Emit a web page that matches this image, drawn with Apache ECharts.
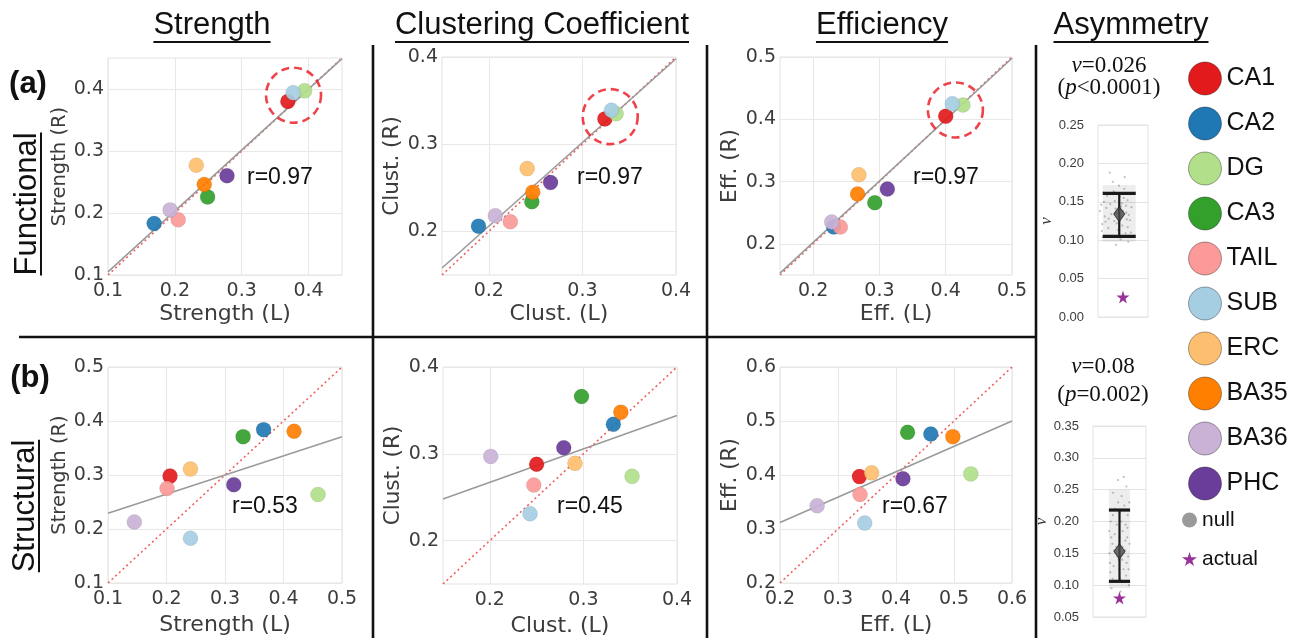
<!DOCTYPE html>
<html><head><meta charset="utf-8">
<script src="https://cdn.jsdelivr.net/npm/echarts@6/dist/echarts.min.js"></script>
<style>html,body{margin:0;padding:0;background:#fff}#c{width:1304px;height:638px}</style>
</head><body><div id="c"></div><script>
// ---------------- DATA ----------------
const regions = ['CA1','CA2','DG','CA3','TAIL','SUB','ERC','BA35','BA36','PHC'];
const regionColors = ['#e31a1c','#1f78b4','#b2df8a','#33a02c','#fb9a99','#a6cee3','#fdbf6f','#ff7f00','#cab2d6','#6a3d9a'];

const funcStrengthL = [0.369,0.169,0.394,0.249,0.205,0.377,0.232,0.244,0.193,0.278];
const funcStrengthR = [0.380,0.183,0.397,0.226,0.189,0.394,0.277,0.246,0.205,0.260];
const funcClustL    = [0.324,0.189,0.336,0.246,0.223,0.331,0.241,0.247,0.207,0.266];
const funcClustR    = [0.329,0.206,0.335,0.234,0.211,0.339,0.272,0.245,0.218,0.256];
const funcEffL      = [0.400,0.231,0.426,0.293,0.241,0.410,0.269,0.267,0.228,0.312];
const funcEffR      = [0.405,0.227,0.423,0.266,0.227,0.425,0.311,0.280,0.235,0.288];
const strucStrengthL = [0.206,0.366,0.459,0.331,0.201,0.241,0.241,0.418,0.145,0.315];
const strucStrengthR = [0.298,0.384,0.264,0.371,0.275,0.183,0.311,0.381,0.213,0.282];
const strucClustL    = [0.250,0.332,0.352,0.298,0.247,0.243,0.291,0.340,0.201,0.279];
const strucClustR    = [0.288,0.334,0.274,0.366,0.264,0.231,0.289,0.348,0.297,0.307];
const strucEffL      = [0.337,0.460,0.529,0.420,0.338,0.346,0.358,0.498,0.264,0.412];
const strucEffR      = [0.397,0.476,0.402,0.479,0.364,0.311,0.404,0.471,0.343,0.393];

// regression (grey) line end points
const fitFuncStrength  = [[0.10,0.105],[0.45,0.449]];
const fitFuncClust     = [[0.15,0.158],[0.40,0.398]];
const fitFuncEff       = [[0.15,0.153],[0.50,0.498]];
const fitStrucStrength = [[0.10,0.229],[0.50,0.371]];
const fitStrucClust    = [[0.15,0.248],[0.40,0.344]];
const fitStrucEff      = [[0.20,0.312],[0.60,0.500]];

const rValues = ['0.97','0.97','0.97','0.53','0.45','0.67'];
const highlightCenters = [[0.3775,0.390],[0.3297,0.3316],[0.4146,0.415]];

// axis ranges and tick labels
const rangeFuncStrength = [0.10,0.45], ticksFuncStrength = [0.1,0.2,0.3,0.4];
const rangeFuncClust = [0.15,0.40], ticksFuncClust = [0.2,0.3,0.4];
const rangeFuncEff = [0.15,0.50], ticksFuncEff = [0.2,0.3,0.4,0.5];
const rangeStrucStrength = [0.10,0.50], ticksStrucStrength = [0.1,0.2,0.3,0.4,0.5];
const rangeStrucClust = [0.15,0.40], ticksStrucClust = [0.2,0.3,0.4];
const rangeStrucEff = [0.20,0.60], ticksStrucEff = [0.2,0.3,0.4,0.5,0.6];

// asymmetry
const asymNu = ['0.026','0.08'];
const asymP = ['<0.0001','=0.002'];
const asymActual = [0.026, 0.08];
const asymMean = [0.134, 0.153];
const asymLo = [0.105, 0.106];
const asymHi = [0.161, 0.218];
const asymRange1 = [0, 0.25], asymTicks1 = [0, 0.05, 0.10, 0.15, 0.20, 0.25];
const asymRange2 = [0.05, 0.35], asymTicks2 = [0.05, 0.10, 0.15, 0.20, 0.25, 0.30, 0.35];
const nullA = [[-0.70,0.112],[-0.42,0.128],[-0.15,0.141],[0.12,0.119],[0.38,0.133],[-0.61,0.150],[-0.29,0.106],[0.02,0.157],[0.27,0.145],[0.46,0.110],
 [-0.55,0.124],[-0.22,0.164],[0.08,0.131],[0.33,0.152],[-0.77,0.138],[-0.36,0.147],[-0.05,0.113],[0.20,0.167],[0.43,0.126],[-0.66,0.104],
 [-0.48,0.158],[-0.10,0.122],[0.15,0.138],[0.36,0.098],[-0.72,0.146],[-0.32,0.134],[-0.01,0.171],[0.25,0.109],[0.49,0.143],[-0.58,0.131],
 [-0.18,0.151],[0.05,0.101],[0.30,0.127],[-0.44,0.116],[-0.26,0.176],[0.10,0.148],[0.41,0.160],[-0.68,0.121],[-0.08,0.135],[0.18,0.155],
 [-0.52,0.142],[-0.13,0.094],[0.22,0.182],[-0.38,0.188],[0.00,0.129],[0.34,0.117],[-0.63,0.162],[-0.20,0.125],[0.07,0.144],[0.28,0.136]];
const nullB = [[-0.35,0.12],[-0.12,0.16],[0.10,0.14],[0.30,0.19],[-0.25,0.21],[0.02,0.11],[0.22,0.17],[-0.38,0.15],[-0.05,0.23],[0.15,0.125],
 [0.36,0.10],[-0.18,0.18],[0.06,0.20],[0.27,0.135],[-0.30,0.095],[-0.08,0.145],[0.18,0.225],[0.38,0.165],[-0.22,0.13],[0.00,0.175],
 [0.25,0.115],[-0.33,0.20],[-0.14,0.105],[0.12,0.185],[0.33,0.145],[-0.27,0.165],[-0.02,0.125],[0.20,0.155],[-0.39,0.185],[0.08,0.24],
 [0.31,0.21],[-0.16,0.22],[0.04,0.09],[0.26,0.255],[-0.24,0.245],[-0.06,0.265],[0.14,0.105],[0.37,0.23],[-0.36,0.135],[-0.10,0.195],
 [0.16,0.27],[0.29,0.175],[-0.20,0.155],[0.01,0.215],[0.23,0.195],[-0.31,0.175],[0.11,0.16],[-0.04,0.14],[0.34,0.125],[-0.26,0.11]];
const nullBand = [[0.098,0.172],[0.095,0.250]];
const asymBarX = [-0.15, 0];
const asymHalfWidth = [0.66, 0.40];

// ---------------- LAYOUT ----------------
const SANS = 'DejaVu Sans', ARIAL = 'Liberation Sans', SERIF = 'Liberation Serif';
const starPath = 'path://M50,0 L61,35 L98,35 L68,57 L79,91 L50,70 L21,91 L32,57 L2,35 L39,35 Z';
const panels = [
 {L:funcStrengthL,R:funcStrengthR,fit:fitFuncStrength,range:rangeFuncStrength,ticks:ticksFuncStrength,xn:'Strength (L)',yn:'Strength (R)',ynSize:19.5,
  grid:{left:108,top:58,width:234,height:217},gapX:28,rPos:[247,178]},
 {L:funcClustL,R:funcClustR,fit:fitFuncClust,range:rangeFuncClust,ticks:ticksFuncClust,xn:'Clust. (L)',yn:'Clust. (R)',ynSize:21.5,
  grid:{left:442,top:57,width:234,height:218},gapX:28,rPos:[577,178]},
 {L:funcEffL,R:funcEffR,fit:fitFuncEff,range:rangeFuncEff,ticks:ticksFuncEff,xn:'Eff. (L)',yn:'Eff. (R)',ynSize:21.5,
  grid:{left:780,top:57,width:232,height:218},gapX:28,rPos:[913,178]},
 {L:strucStrengthL,R:strucStrengthR,fit:fitStrucStrength,range:rangeStrucStrength,ticks:ticksStrucStrength,xn:'Strength (L)',yn:'Strength (R)',ynSize:19.5,
  grid:{left:108,top:367,width:234,height:216},gapX:31,rPos:[232,507]},
 {L:strucClustL,R:strucClustR,fit:fitStrucClust,range:rangeStrucClust,ticks:ticksStrucClust,xn:'Clust. (L)',yn:'Clust. (R)',ynSize:21.5,
  grid:{left:443,top:367,width:234,height:217},gapX:31,rPos:[557,507]},
 {L:strucEffL,R:strucEffR,fit:fitStrucEff,range:rangeStrucEff,ticks:ticksStrucEff,xn:'Eff. (L)',yn:'Eff. (R)',ynSize:21.5,
  grid:{left:780,top:367,width:232,height:216},gapX:31,rPos:[882,507]}
];
const asymGrids = [{left:1098,top:125,width:50,height:192},{left:1093,top:426,width:53,height:191}];

const grids = [], xAxes = [], yAxes = [], series = [], graphics = [];
const tickColor = '#3c3c3c';
panels.forEach((p, pi) => {
  grids.push(Object.assign({show:true, borderColor:'#e2e2e2', borderWidth:1, backgroundColor:'#fff'}, p.grid));
  const common = {
    type:'value', gridIndex:pi, min:p.range[0], max:p.range[1],
    axisLine:{show:false}, axisTick:{show:false, customValues:p.ticks},
    splitLine:{show:true, lineStyle:{color:'#e8e8e8', width:1}},
    nameLocation:'middle'
  };
  xAxes.push(Object.assign({}, common, {
    axisLabel:{customValues:p.ticks, formatter:v=>v.toFixed(1), margin:7, color:tickColor, fontSize:19, fontFamily:SANS},
    name:p.xn, nameGap:p.gapX, nameTextStyle:{fontSize:22, color:tickColor, fontFamily:SANS}
  }));
  yAxes.push(Object.assign({}, common, {
    axisLabel:{customValues:p.ticks, formatter:v=>v.toFixed(1), margin:4, color:tickColor, fontSize:19, fontFamily:SANS},
    name:p.yn, nameGap:36, nameTextStyle:{fontSize:p.ynSize, color:tickColor, fontFamily:SANS}
  }));
  // identity line
  series.push({type:'line', xAxisIndex:pi, yAxisIndex:pi, silent:true, symbol:'none', z:2,
    data:[[p.range[0],p.range[0]],[p.range[1],p.range[1]]],
    lineStyle:{color:'#f0605e', width:1.6, type:[2,3]}});
  // fit line
  series.push({type:'line', xAxisIndex:pi, yAxisIndex:pi, silent:true, symbol:'none', z:2,
    data:p.fit, lineStyle:{color:'#9a9a9a', width:1.6}});
  regions.forEach((r, ri) => {
    series.push({name:r, type:'scatter', xAxisIndex:pi, yAxisIndex:pi, z:3,
      data:[[p.L[ri], p.R[ri]]], symbolSize:15,
      itemStyle:{color:regionColors[ri], opacity:0.92, borderColor:'rgba(0,0,0,0.15)', borderWidth:0.6}});
  });
  if (pi < 3) {
    series.push({type:'scatter', xAxisIndex:pi, yAxisIndex:pi, silent:true, z:4,
      data:[highlightCenters[pi]], symbolSize:55,
      itemStyle:{color:'rgba(0,0,0,0)', borderColor:'#e8141c', borderWidth:2.6, borderType:[8,5]}});
  }
  graphics.push({type:'text', x:p.rPos[0], y:p.rPos[1], z:10,
    style:{text:'r='+rValues[pi], fill:'#111', font:'23px "'+ARIAL+'"', verticalAlign:'middle', align:'left'}});
});

// Asymmetry panels
const asymRanges = [asymRange1, asymRange2], asymTicks = [asymTicks1, asymTicks2], nulls = [nullA, nullB];
asymGrids.forEach((g, ai) => {
  const gi = 6 + ai;
  grids.push(Object.assign({show:true, borderColor:'#e2e2e2', borderWidth:1, backgroundColor:'#fff'}, g));
  xAxes.push({type:'value', gridIndex:gi, min:-1, max:1, show:false});
  yAxes.push({type:'value', gridIndex:gi, min:asymRanges[ai][0], max:asymRanges[ai][1],
    axisLine:{show:false}, axisTick:{show:false, customValues:asymTicks[ai]},
    axisLabel:{customValues:asymTicks[ai], formatter:v=>v.toFixed(2), margin:14, color:tickColor, fontSize:13, fontFamily:ARIAL},
    splitLine:{show:true, lineStyle:{color:'#e4e4e4'}},
    name:'ν', nameLocation:'middle', nameGap:43,
    nameTextStyle:{fontSize:17, fontStyle:'italic', fontFamily:SERIF, color:'#333'}});
  // faint band of null cloud
  series.push({type:'custom', xAxisIndex:gi, yAxisIndex:gi, silent:true, z:1,
    data:[[asymBarX[ai], nullBand[ai][0], nullBand[ai][1], asymHalfWidth[ai]]],
    encode:{x:0, y:[1,2]},
    renderItem:(params, api) => {
      const x = api.value(0), hw = api.value(3);
      const a = api.coord([x-hw, api.value(2)]), b = api.coord([x+hw, api.value(1)]);
      return {type:'rect', shape:{x:a[0], y:a[1], width:b[0]-a[0], height:b[1]-a[1]},
        style:{fill:'rgba(0,0,0,0.07)'}};
    }});
  series.push({name:'null', type:'scatter', xAxisIndex:gi, yAxisIndex:gi, z:2, silent:true,
    data:nulls[ai].map(d => [asymBarX[ai] + d[0], d[1]]), symbolSize:2.2,
    itemStyle:{color:'rgba(110,110,110,0.55)'}});
  // error bar
  series.push({type:'custom', xAxisIndex:gi, yAxisIndex:gi, silent:true, z:3,
    data:[[asymBarX[ai], asymLo[ai], asymHi[ai], asymHalfWidth[ai]]],
    encode:{x:0, y:[1,2]},
    renderItem:(params, api) => {
      const x = api.value(0), hw = api.value(3);
      const lo = api.coord([x, api.value(1)]), hi = api.coord([x, api.value(2)]);
      const l = api.coord([x-hw, api.value(1)]), r = api.coord([x+hw, api.value(1)]);
      const st = {stroke:'#1a1a1a', lineWidth:2.2};
      const cap = {stroke:'#1a1a1a', lineWidth:3.2};
      return {type:'group', children:[
        {type:'line', shape:{x1:lo[0], y1:lo[1], x2:hi[0], y2:hi[1]}, style:st},
        {type:'line', shape:{x1:l[0], y1:lo[1], x2:r[0], y2:lo[1]}, style:cap},
        {type:'line', shape:{x1:l[0], y1:hi[1], x2:r[0], y2:hi[1]}, style:cap}
      ]};
    }});
  series.push({type:'scatter', xAxisIndex:gi, yAxisIndex:gi, z:4, silent:true,
    data:[[asymBarX[ai], asymMean[ai]]], symbol:'diamond', symbolSize:[11,15],
    itemStyle:{color:'#4a4a4a', borderColor:'#222', borderWidth:1}});
  series.push({name:'actual', type:'scatter', xAxisIndex:gi, yAxisIndex:gi, z:5,
    data:[[0, asymActual[ai]]], symbol:starPath, symbolSize:13,
    itemStyle:{color:'#800080'}});
});

// titles, dividers, section labels
const canvas = document.createElement('canvas'), ctx = canvas.getContext('2d');
function tw(text, font){ ctx.font = font; return ctx.measureText(text).width; }
const titleFont = '31px "Liberation Sans"';
[['Strength',212],['Clustering Coefficient',542],['Efficiency',882],['Asymmetry',1131]].forEach(([t,cx]) => {
  graphics.push({type:'text', x:cx, y:25, style:{text:t, font:titleFont, fill:'#111', align:'center', verticalAlign:'middle'}});
  const w = tw(t, titleFont);
  graphics.push({type:'line', shape:{x1:cx-w/2, y1:42, x2:cx+w/2, y2:42}, style:{stroke:'#111', lineWidth:2}});
});
const secFont = '31px "Liberation Sans"';
[['Functional',204,27,41],['Structural',506,25,39]].forEach(([t,cy,cx,ux]) => {
  graphics.push({type:'text', x:cx, y:cy, rotation:Math.PI/2, style:{text:t, font:secFont, fill:'#111', align:'center', verticalAlign:'middle'}});
  const w = tw(t, secFont);
  graphics.push({type:'line', shape:{x1:ux, y1:cy-w/2, x2:ux, y2:cy+w/2}, style:{stroke:'#111', lineWidth:2}});
});
graphics.push({type:'text', x:28, y:84, style:{text:'(a)', font:'bold 31px "Liberation Sans"', fill:'#111', align:'center', verticalAlign:'middle'}});
graphics.push({type:'text', x:30, y:378, style:{text:'(b)', font:'bold 31px "Liberation Sans"', fill:'#111', align:'center', verticalAlign:'middle'}});
graphics.push({type:'line', shape:{x1:19, y1:337, x2:1036, y2:337}, style:{stroke:'#111', lineWidth:2.6}});
[373, 707, 1036].forEach(x => graphics.push({type:'line', shape:{x1:x, y1:45, x2:x, y2:638}, style:{stroke:'#111', lineWidth:2.6}}));
// asymmetry annotations
[[1109,66,88],[1103,367,395]].forEach(([cx,y1,y2], ai) => {
  graphics.push({type:'text', x:cx, y:y1, style:{text:'{i|ν}=' + asymNu[ai], font:'23px "Liberation Serif"', fill:'#111', align:'center', verticalAlign:'middle',
    rich:{i:{fontStyle:'italic', fontFamily:SERIF, fontSize:23}}}});
  graphics.push({type:'text', x:cx, y:y2, style:{text:'({i|p}' + asymP[ai] + ')', font:'23px "Liberation Serif"', fill:'#111', align:'center', verticalAlign:'middle',
    rich:{i:{fontStyle:'italic', fontFamily:SERIF, fontSize:23}}}});
});

const chart = echarts.init(document.getElementById('c'), null, {renderer:'canvas'});
chart.setOption({
  animation:false,
  backgroundColor:'#fff',
  grid:grids, xAxis:xAxes, yAxis:yAxes, series:series, graphic:graphics,
  legend:[
    {data:regions, orient:'vertical', left:1188, top:61.5, padding:0, itemWidth:33, itemHeight:33, itemGap:11, icon:'circle',
     selectedMode:false, textStyle:{fontSize:25, color:'#111', fontFamily:ARIAL},
     itemStyle:{opacity:1, borderColor:'rgba(0,0,0,0.35)', borderWidth:1}},
    {data:[{name:'null', icon:'circle', itemStyle:{color:'#9a9a9a', opacity:1}}, {name:'actual', icon:starPath, itemStyle:{color:'#800080'}}],
     orient:'vertical', left:1182, top:509.5, padding:0, itemWidth:15, itemHeight:15, itemGap:18, selectedMode:false,
     textStyle:{fontSize:21, color:'#111', fontFamily:ARIAL}}
  ]
});
</script></body></html>
